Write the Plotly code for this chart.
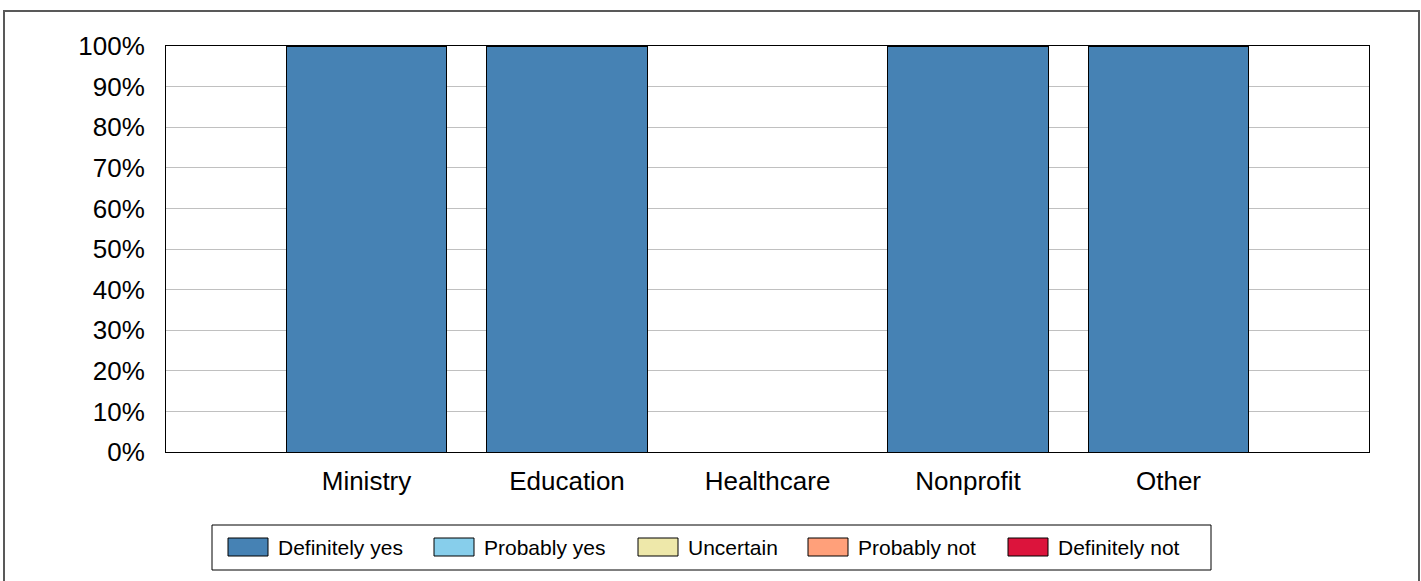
import plotly.graph_objects as go

categories = ["Ministry", "Education", "Healthcare", "Nonprofit", "Other"]
series_names = ["Definitely yes", "Probably yes", "Uncertain", "Probably not", "Definitely not"]
definitely_yes = [100, 100, 0, 100, 100]
probably_yes = [0, 0, 0, 0, 0]
uncertain = [0, 0, 0, 0, 0]
probably_not = [0, 0, 0, 0, 0]
definitely_not = [0, 0, 0, 0, 0]
colors = ["#4682B4", "#87CEEB", "#EEE8AA", "#FFA07A", "#DC143C"]
y_ticks = [0, 10, 20, 30, 40, 50, 60, 70, 80, 90, 100]
y_tick_labels = [f"{v}%" for v in y_ticks]

W, H = 1421, 581
ML, MR, MT, MB = 166, 52, 46, 129
PW, PH = W - ML - MR, H - MT - MB
FONT = "Liberation Sans, Arial, sans-serif"

def px_x(px):
    return (px - ML) / PW

def px_y(py):
    return (H - MB - py) / PH

fig = go.Figure()
values = [definitely_yes, probably_yes, uncertain, probably_not, definitely_not]
for name, vals, col in zip(series_names, values, colors):
    fig.add_trace(go.Bar(
        x=categories, y=vals, name=name,
        marker=dict(color=col, line=dict(color="black", width=1)),
        showlegend=False,
    ))

shapes = []
annotations = []
# outer border
shapes.append(dict(type="rect", xref="paper", yref="paper",
                   x0=px_x(4), x1=px_x(1419), y0=px_y(11), y1=px_y(600),
                   line=dict(color="#595959", width=2), fillcolor="rgba(0,0,0,0)", layer="above"))
# legend box
shapes.append(dict(type="rect", xref="paper", yref="paper",
                   x0=px_x(212), x1=px_x(1211), y0=px_y(525), y1=px_y(570),
                   line=dict(color="black", width=1), fillcolor="white", layer="above"))
swatch_x = [228, 434, 638, 808, 1008]
for sx, name, col in zip(swatch_x, series_names, colors):
    shapes.append(dict(type="rect", xref="paper", yref="paper",
                       x0=px_x(sx), x1=px_x(sx + 40), y0=px_y(538), y1=px_y(556),
                       line=dict(color="black", width=1), fillcolor=col, layer="above"))
    annotations.append(dict(xref="paper", yref="paper", x=px_x(sx + 48), y=px_y(547),
                            text=name, showarrow=False, xanchor="left", yanchor="middle",
                            font=dict(family=FONT, size=21, color="black")))

fig.update_layout(
    width=W, height=H,
    margin=dict(l=ML, r=MR, t=MT, b=MB, autoexpand=False),
    barmode="stack", bargap=0.2,
    plot_bgcolor="white", paper_bgcolor="white",
    font=dict(family=FONT, color="black"),
    shapes=shapes, annotations=annotations,
)
fig.update_xaxes(
    categoryorder="array", categoryarray=categories,
    range=[-1, len(categories)],
    showline=True, linecolor="black", linewidth=1, mirror=True,
    showgrid=False, ticks="", tickfont=dict(size=26, family=FONT, color="black"),
    ticklabelstandoff=6,
)
fig.update_yaxes(
    range=[0, 100], tickvals=y_ticks, ticktext=y_tick_labels,
    showline=True, linecolor="black", linewidth=1, mirror=True,
    showgrid=True, gridcolor="#C0C0C0", gridwidth=1, zeroline=False,
    ticks="", tickfont=dict(size=26, family=FONT, color="black"),
    ticklabelstandoff=15,
)

fig.write_html("out.html", config={"displayModeBar": False},
               post_script="document.body.style.margin='0';document.body.style.overflow='hidden';")
